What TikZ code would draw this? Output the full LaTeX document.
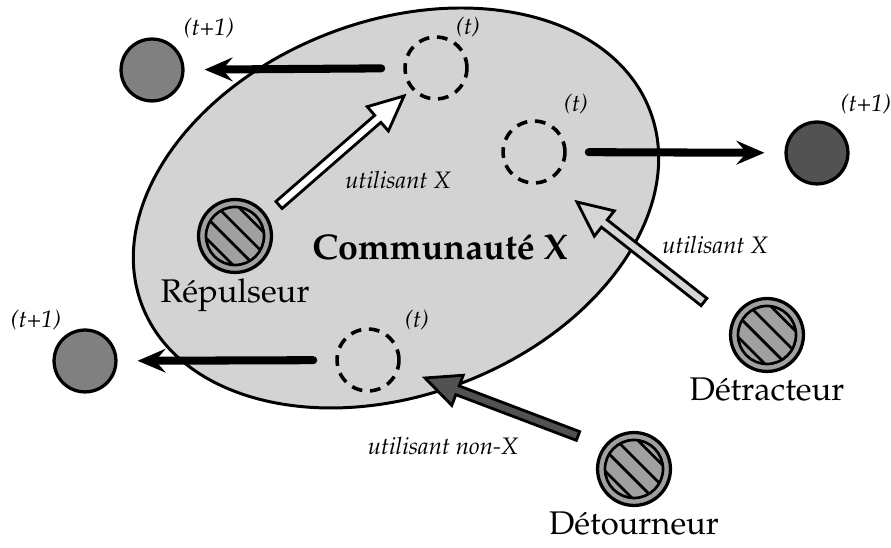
\documentclass[tikz,border=0pt]{standalone}
\usepackage[T1]{fontenc}
\usepackage{mathpazo}
\usepackage{tikz}
\usetikzlibrary{arrows.meta, positioning, calc}

\definecolor{commfill}{HTML}{D3D3D3}
\definecolor{agentfill}{HTML}{A0A0A0}
\definecolor{lightfill}{HTML}{D6D6D6}
\definecolor{darkfill}{HTML}{525252}
\definecolor{midfill}{HTML}{808080}

\tikzset{
  ghost/.style={circle, draw, line width=1.2pt, dash pattern=on 3.6pt off 2.6pt, minimum size=0.73cm, inner sep=0pt},
  moved/.style={circle, draw, line width=1.1pt, minimum size=0.73cm, inner sep=0pt},
  agent/.style={circle, draw, line width=1.1pt, fill=agentfill, minimum size=0.86cm, inner sep=0pt},
  agentname/.style={font=\fontsize{11}{13}\selectfont, inner sep=0.5pt},
  tlabel/.style={font=\footnotesize\itshape},
  jump/.style={line width=2.7pt, line cap=round, shorten <=0.26cm, shorten >=0.236cm,
    -{Stealth[length=0.33cm, width=0.28cm, inset=0.12cm]}},
  fatline/.style={line width=0.95pt, line join=miter}
}

% thick outlined arrow: fill, tail, tip
\newcommand{\fatarrow}[3]{%
  \coordinate (head) at ($(#3)!0.41cm!(#2)$);
  \draw[fatline, fill=#1]
    ($(#2)!0.055cm!90:(#3)$) -- ($(head)!0.055cm!-90:(#2)$) -- ($(head)!0.19cm!-90:(#2)$)
    -- (#3) -- ($(head)!0.19cm!90:(#2)$) -- ($(head)!0.055cm!90:(#2)$)
    -- ($(#2)!0.055cm!-90:(#3)$) -- cycle;
}

\begin{document}
\begin{tikzpicture}[x=0.0118cm, y=0.0118cm]
  \useasboundingbox (0,0) rectangle (891,548);

  % Community
  \draw[fill=commfill, line width=1pt, rotate around={21:(396,340)}] (396,340) ellipse (272 and 187);
  \node[font=\large\bfseries] (comm) at (440,301) {Communaut\'e X};

  % Positions at time t
  \node[ghost] (oldtop) at (436,480) {};
  \node[ghost] (oldright) at (534,396) {};
  \node[ghost] (oldbot) at (368,188) {};
  \node[tlabel] at (468,521) {(t)};
  \node[tlabel] at (576,444) {(t)};
  \node[tlabel] at (417,228) {(t)};

  % Positions at time t+1
  \node[moved, fill=midfill] (newtop) at (152,478) {};
  \node[moved, fill=darkfill] (newright) at (817,395) {};
  \node[moved, fill=midfill] (newbot) at (85,187) {};
  \node[tlabel] at (209,520) {(t+1)};
  \node[tlabel] at (866,444) {(t+1)};
  \node[tlabel] at (36,228) {(t+1)};

  % Moves
  \draw[jump] (oldtop) -- (newtop);
  \draw[jump] (oldright) -- (newright);
  \draw[jump] (oldbot) -- (newbot);

  % Agents
  \foreach \nm/\x/\y/\lbl in {rep/235/312/R\'epulseur, detr/767/213/D\'etracteur, deto/634/79/D\'etourneur} {
    \node[agent] (\nm) at (\x,\y) {};
    \begin{scope}[shift={(\x,\y)}, rotate=-45]
      \clip (0,0) circle (29);
      \foreach \o in {-22,-7,8,23}
        \draw[line width=0.9pt] (-40,\o) -- (40,\o);
    \end{scope}
    \draw[line width=0.9pt] (\x,\y) circle (29);
    \node[agentname, below=1pt of \nm] {\lbl};
  }

  % Influences
  \coordinate (repS) at (279,343);
  \coordinate (repE) at (404,452);
  \coordinate (detrS) at (704,246);
  \coordinate (detrE) at (577,346);
  \coordinate (detoS) at (578,112);
  \coordinate (detoE) at (425,170);
  \fatarrow{white}{repS}{repE}
  \fatarrow{lightfill}{detrS}{detrE}
  \fatarrow{darkfill}{detoS}{detoE}
  \node[tlabel] at (398,368) {utilisant X};
  \node[tlabel] at (715,303) {utilisant X};
  \node[tlabel] at (443,102) {utilisant non-X};
\end{tikzpicture}
\end{document}
